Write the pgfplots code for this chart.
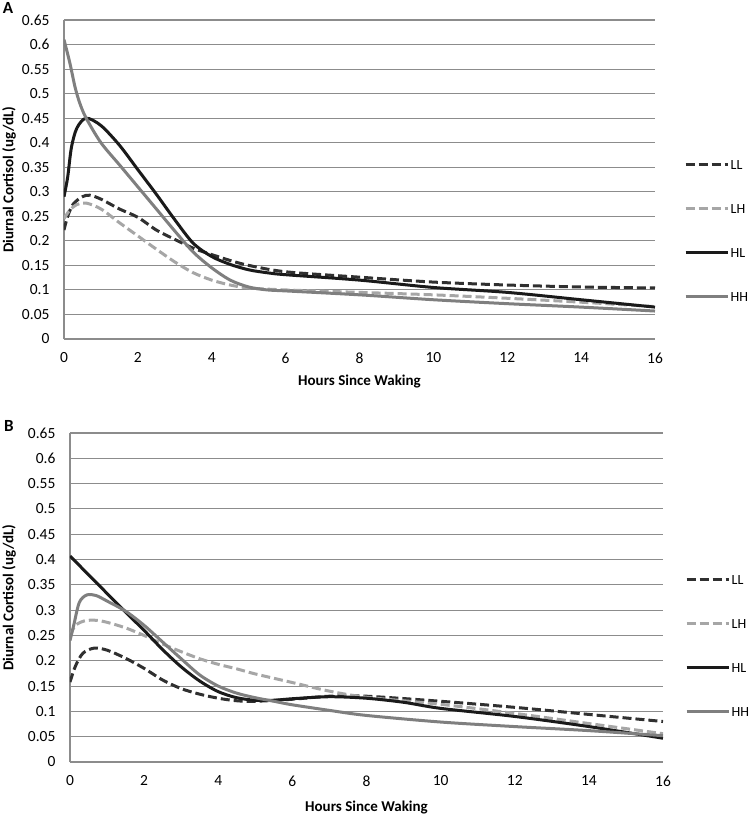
\documentclass[border=0pt]{standalone}
\usepackage{pgfplots}
\pgfplotsset{compat=1.18}
\usepackage{fontspec}
\setmainfont{Carlito}
\definecolor{gridc}{HTML}{8C8C8C}
\definecolor{llc}{HTML}{303030}
\definecolor{lhc}{HTML}{A6A6A6}
\definecolor{hlc}{HTML}{1A1A1A}
\definecolor{hhc}{HTML}{7F7F7F}
\newcommand\myTickFont{\fontsize{15.5pt}{18pt}\selectfont}
\newcommand\myLegFont{\fontsize{14pt}{17pt}\selectfont}
\newcommand\myLabFont{\bfseries\fontsize{15pt}{18pt}\selectfont}
\pgfplotsset{
  panel/.style={
    scale only axis,
    xmin=0, xmax=16, ymin=0, ymax=0.65,
    axis lines=left,
    axis line style={draw=gridc, line width=1.1pt, -},
    ymajorgrids,
    grid style={draw=gridc, line width=1.1pt},
    major tick length=0pt,
    xtick={0,2,4,6,8,10,12,14,16},
    ytick={0,0.05,0.1,0.15,0.2,0.25,0.3,0.35,0.4,0.45,0.5,0.55,0.6,0.65},
    xticklabels={0,2,4,6,8,10,12,14,16},
    yticklabels={0,0.05,0.1,0.15,0.2,0.25,0.3,0.35,0.4,0.45,0.5,0.55,0.6,0.65},
    every tick label/.append style={font=\myTickFont},
    yticklabel style={anchor=east, xshift=-11pt},
    xticklabel style={anchor=north, yshift=-10pt},
    xlabel={Hours Since Waking},
    ylabel={Diurnal Cortisol (ug/dL)},
    xlabel style={font=\myLabFont, at={(axis description cs:0.5,0)}, anchor=center},
    ylabel style={font=\myLabFont, at={(axis description cs:0,0.5)}, anchor=center},
    legend style={draw=none, fill=none, anchor=west, inner sep=0pt,
      font=\myLegFont, row sep=31pt,
      nodes={inner sep=1.5pt, text height=10pt, text depth=0pt},
      cells={anchor=west}},
    legend image code/.code={\draw[#1] (0pt,0pt) -- (42pt,0pt);},
  },
  LL/.style={llc, line width=3pt, dash pattern=on 9pt off 4pt, smooth},
  LH/.style={lhc, line width=3pt, dash pattern=on 9pt off 4pt, smooth},
  HL/.style={hlc, line width=3pt, smooth},
  HH/.style={hhc, line width=3pt, smooth},
}
\begin{document}
\begin{tikzpicture}
\useasboundingbox (0pt,0pt) rectangle (750pt,-815pt);
% Panel A
\begin{axis}[panel, at={(64pt,-339pt)}, anchor=south west, width=591pt, height=319pt,
  xlabel style={yshift=-43pt}, ylabel style={yshift=55pt},
  legend style={at={(1.049,0.341)}}]
\addplot[LL] coordinates {(0,0.222) (0.1,0.25) (0.25,0.275) (0.5,0.29) (0.7,0.293) (1.0,0.285) (1.5,0.265) (2.0,0.248) (2.5,0.222) (3.0,0.203) (3.5,0.185) (4.0,0.172) (4.5,0.16) (5.0,0.15) (6,0.137) (8,0.126) (10,0.116) (12,0.11) (14,0.106) (16,0.104)};
\addlegendentry{LL}
\addplot[LH] coordinates {(0,0.245) (0.15,0.262) (0.35,0.274) (0.6,0.277) (1.0,0.265) (1.5,0.237) (2.0,0.21) (2.5,0.183) (3.0,0.157) (3.5,0.135) (4.0,0.12) (4.5,0.11) (5.0,0.104) (6,0.1) (8,0.095) (10,0.09) (12,0.083) (14,0.075) (16,0.066)};
\addlegendentry{LH}
\addplot[HL] coordinates {(0,0.29) (0.1,0.33) (0.2,0.39) (0.35,0.43) (0.6,0.45) (1.0,0.435) (1.5,0.395) (2.0,0.345) (2.5,0.295) (3.0,0.243) (3.5,0.195) (4.0,0.168) (4.5,0.152) (5.0,0.141) (5.5,0.135) (6,0.131) (8,0.12) (10,0.105) (12,0.095) (14,0.08) (16,0.065)};
\addlegendentry{HL}
\addplot[HH] coordinates {(0,0.61) (0.16,0.562) (0.3,0.513) (0.43,0.48) (0.6,0.45) (1.0,0.40) (1.5,0.355) (2.0,0.31) (2.5,0.265) (3.0,0.22) (3.5,0.177) (4.0,0.145) (4.5,0.12) (5.0,0.106) (5.5,0.1) (6,0.098) (8,0.09) (10,0.08) (12,0.072) (14,0.065) (16,0.057)};
\addlegendentry{HH}
\end{axis}
% Panel B
\begin{axis}[panel, at={(70pt,-762pt)}, anchor=south west, width=593pt, height=329pt,
  xlabel style={yshift=-45pt}, ylabel style={yshift=61pt},
  legend style={at={(1.037,0.354)}}]
\addplot[LL] coordinates {(0,0.158) (0.15,0.19) (0.35,0.215) (0.65,0.225) (1.0,0.221) (1.5,0.205) (2.0,0.185) (2.5,0.162) (3.0,0.145) (3.5,0.134) (4.0,0.126) (4.5,0.121) (5.0,0.12) (6,0.124) (7,0.13) (8,0.13) (10,0.12) (12,0.108) (14,0.094) (16,0.08)};
\addlegendentry{LL}
\addplot[LH] coordinates {(0,0.25) (0.15,0.27) (0.4,0.279) (0.7,0.28) (1.0,0.276) (1.5,0.265) (2.0,0.25) (2.5,0.233) (3.0,0.218) (3.5,0.204) (4.0,0.193) (4.5,0.184) (5.0,0.174) (6,0.157) (7,0.14) (8,0.128) (10,0.114) (12,0.096) (14,0.076) (16,0.056)};
\addlegendentry{LH}
\addplot[HL] coordinates {(0,0.407) (0.5,0.37) (1.0,0.333) (1.5,0.296) (2.0,0.26) (2.5,0.222) (3.0,0.188) (3.5,0.16) (4.0,0.139) (4.5,0.127) (5.0,0.122) (5.5,0.122) (6,0.125) (7,0.129) (8,0.126) (9,0.118) (10,0.106) (12,0.09) (14,0.07) (16,0.047)};
\addlegendentry{HL}
\addplot[HH] coordinates {(0,0.24) (0.1,0.27) (0.25,0.315) (0.45,0.33) (0.7,0.329) (1.0,0.318) (1.5,0.298) (2.0,0.27) (2.5,0.237) (3.0,0.204) (3.5,0.172) (4.0,0.15) (4.5,0.136) (5.0,0.127) (5.5,0.12) (6,0.113) (7,0.102) (8,0.092) (10,0.079) (12,0.07) (14,0.062) (16,0.052)};
\addlegendentry{HH}
\end{axis}
\node[font=\bfseries\fontsize{17pt}{20pt}\selectfont] at (8pt,-8pt) {A};
\node[font=\bfseries\fontsize{17pt}{20pt}\selectfont] at (9pt,-426pt) {B};
\end{tikzpicture}
\end{document}
